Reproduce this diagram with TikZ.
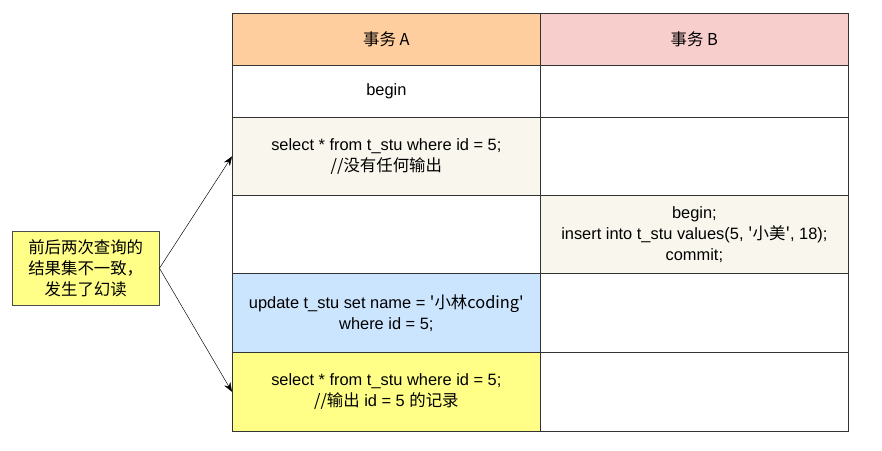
\documentclass[tikz,border=0pt]{standalone}
\usepackage{fontspec}
\setmainfont{Liberation Sans}
\newfontfamily\cjk{Noto Sans CJK SC}
\usetikzlibrary{positioning,arrows.meta}

\definecolor{hdrA}{HTML}{FFCE9F}
\definecolor{hdrB}{HTML}{F8CECC}
\definecolor{paleBg}{HTML}{F9F7ED}
\definecolor{blueBg}{HTML}{CCE5FF}
\definecolor{noteBg}{HTML}{FFFF88}

\tikzset{
  cell/.style={draw=black!80, line width=0.6pt, minimum width=9.24cm, minimum height=#1, inner sep=0pt, align=center, font=\fontsize{14pt}{17.8pt}\selectfont, anchor=north west},
  note/.style={draw=black!70, fill=noteBg, minimum width=4.41cm, minimum height=2.22cm, align=center, font=\fontsize{14pt}{17.8pt}\selectfont, anchor=north west}
}

\begin{document}
\begin{tikzpicture}[x=0.03cm,y=-0.03cm]
\useasboundingbox (0,0) rectangle (882,451);

% header row
\node[cell=1.56cm, fill=hdrA] (ha) at (232,13) {\cjk 事务 A};
\node[cell=1.56cm, fill=hdrB] (hb) at (540,13) {\cjk 事务 B};

% body rows
\node[cell=1.56cm] (a1) at (232,65) {begin};
\node[cell=1.56cm] (b1) at (540,65) {};
\node[cell=2.34cm, fill=paleBg] (a2) at (232,117) {select * from t\_stu where id = 5;\\ {\cjk //没有任何输出}};
\node[cell=2.34cm] (b2) at (540,117) {};
\node[cell=2.34cm] (a3) at (232,195) {};
\node[cell=2.34cm, fill=paleBg] (b3) at (540,195) {begin;\\ insert into t\_stu values(5, {\cjk '小美'}, 18);\\ commit;};
\node[cell=2.37cm, fill=blueBg] (a4) at (232,273) {update t\_stu set name = {\cjk '小林coding'}\\ where id = 5;};
\node[cell=2.37cm] (b4) at (540,273) {};
\node[cell=2.37cm, fill=noteBg] (a5) at (232,352) {select * from t\_stu where id = 5;\\ {\cjk //输出} id = 5 {\cjk 的记录}};
\node[cell=2.37cm] (b5) at (540,352) {};

% note and arrows
\node[note] (nt) at (12,231) {\cjk 前后两次查询的\\ \cjk 结果集不一致，\\ \cjk 发生了幻读};
\draw[-{Stealth[length=8pt,width=6pt]}] (nt.east) -- (a2.west);
\draw[-{Stealth[length=8pt,width=6pt]}] (nt.east) -- (a5.west);

\end{tikzpicture}
\end{document}
